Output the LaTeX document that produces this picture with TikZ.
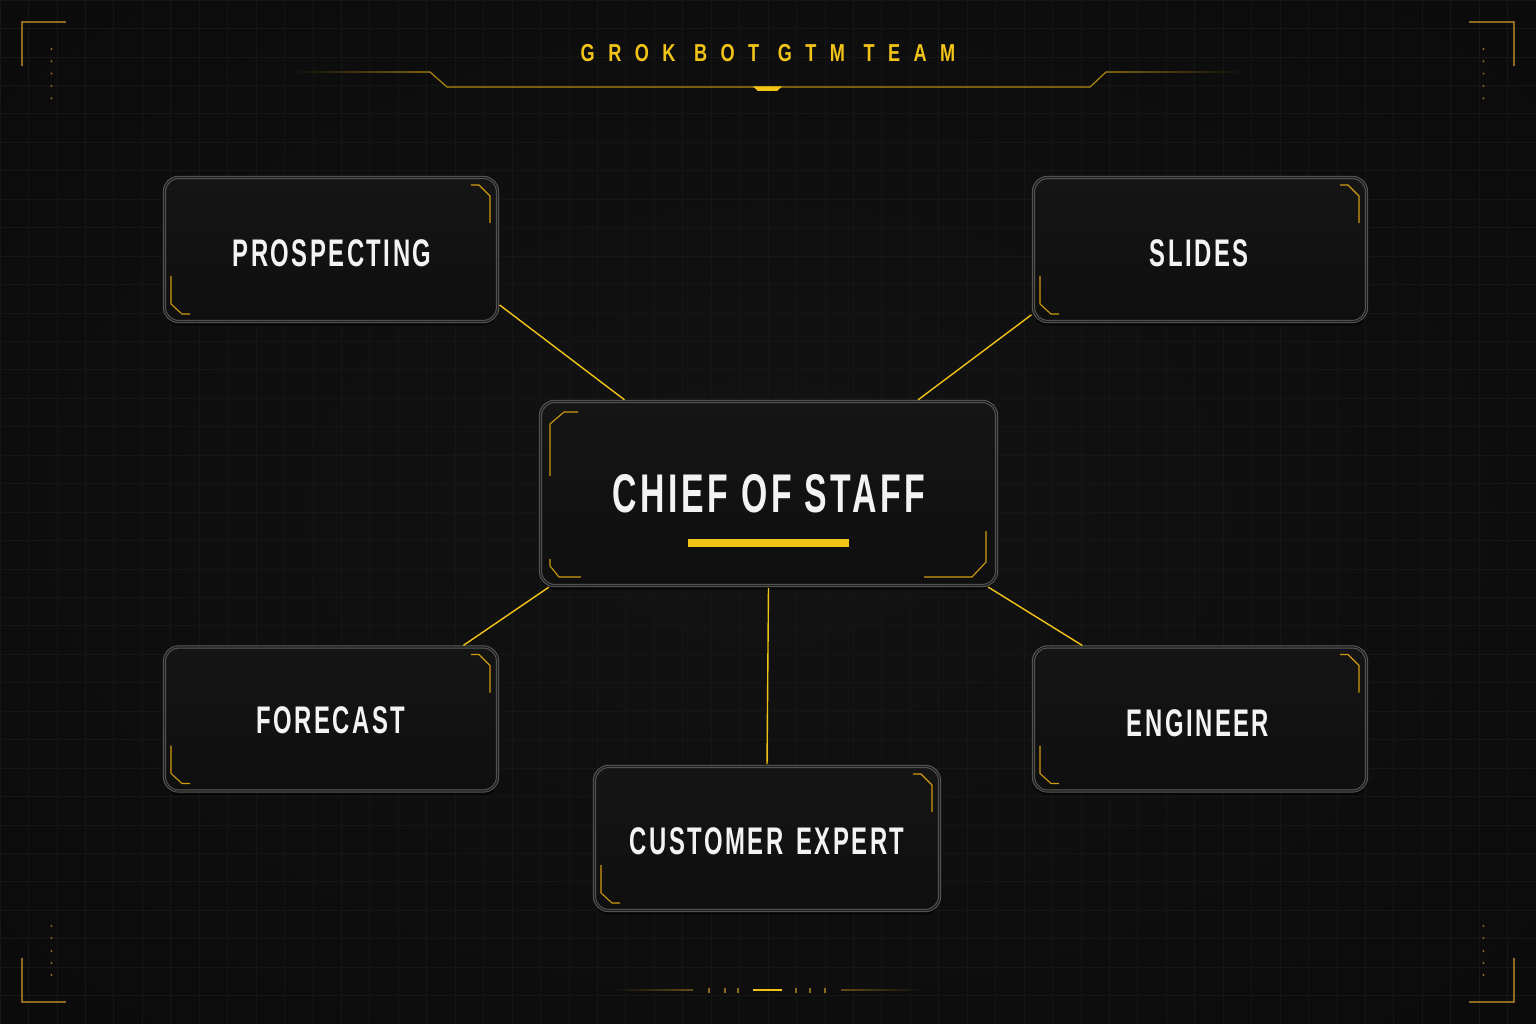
\documentclass[tikz,border=0pt]{standalone}
\usepackage{fontspec}
\setmainfont{Liberation Sans}
\newfontfamily\lblfont[FakeStretch=0.62,LetterSpace=6.5]{Liberation Sans Bold}
\newfontfamily\ttlfont[FakeStretch=0.74,LetterSpace=55]{Liberation Sans Bold}
\usetikzlibrary{calc,shadows}
\definecolor{bgA}{HTML}{131313}
\definecolor{bgB}{HTML}{0C0C0C}
\definecolor{bgC}{HTML}{070707}
\definecolor{gridc}{HTML}{161616}
\definecolor{cardtop}{HTML}{151515}
\definecolor{cardbot}{HTML}{0F0F0F}
\definecolor{cardline}{HTML}{5A5A57}
\definecolor{cardgap}{HTML}{1E1E1E}
\definecolor{gold}{HTML}{F2C417}
\definecolor{linegold}{HTML}{B08A10}
\definecolor{dimgold}{HTML}{8C6B1E}
\definecolor{brkc}{HTML}{D19B0E}
\definecolor{txt}{HTML}{F3F3F3}
\pgfdeclareradialshading{vign}{\pgfpoint{0bp}{0bp}}{color(0bp)=(bgA); color(30bp)=(bgB); color(50bp)=(bgC)}
\tikzset{
  card/.style={draw=cardline, double=cardgap, line width=1pt, double distance=1.2pt,
    rounded corners=14pt, top color=cardtop, bottom color=cardbot,
    drop shadow={shadow xshift=0pt, shadow yshift=-4pt, opacity=0.55, fill=black},
    minimum width=333pt, minimum height=144pt, inner sep=0pt},
  lbl/.style={text=txt, font=\lblfont\fontsize{38.5}{40}\selectfont, anchor=base, inner sep=0pt},
  wire/.style={draw=gold, line width=1.4pt, shorten <=2pt, shorten >=2pt},
  brk/.style={draw=brkc, line width=1.1pt, line join=round},
  framec/.style={draw=dimgold, line width=1.3pt},
}
\newcommand\cardbrk[1]{%
  \draw[brk] ($(#1.north east)+(-27,8)$) -- ($(#1.north east)+(-19,8)$) -- ($(#1.north east)+(-8,19)$) -- ($(#1.north east)+(-8,46)$);
  \draw[brk] ($(#1.south west)+(7,-46)$) -- ($(#1.south west)+(7,-18)$) -- ($(#1.south west)+(18,-8)$) -- ($(#1.south west)+(26,-8)$);}
\begin{document}
\begin{tikzpicture}[x=1pt,y=-1pt]
\useasboundingbox (0,0) rectangle (1536,1024);
\shade[shading=vign] (0,0) rectangle (1536,1024);
% grid
\foreach \i in {0,...,54} \draw[gridc, line width=0.7pt] (\i*28.444,0) -- (\i*28.444,1024);
\foreach \j in {0,...,36} \draw[gridc, line width=0.7pt] (0,\j*28.444) -- (1536,\j*28.444);
% frame corners
\draw[framec] (22,66) -- (22,22) -- (66,22);
\draw[framec] (1469,22) -- (1514,22) -- (1514,66);
\draw[framec] (22,958) -- (22,1002) -- (66,1002);
\draw[framec] (1469,1002) -- (1514,1002) -- (1514,958);
\foreach \y in {49,61.3,73.6,86,98.3} {
  \fill[dimgold] (51.5,\y) circle (1.1pt);
  \fill[dimgold] (1483.5,\y) circle (1.1pt);}
\foreach \y in {926,938,951,963,975} {
  \fill[dimgold] (51.5,\y) circle (1.1pt);
  \fill[dimgold] (1483.5,\y) circle (1.1pt);}
% bottom centre mark
\shade[left color=bgB, right color=dimgold!70!black] (610,989.4) rectangle (693,990.6);
\shade[left color=dimgold!70!black, right color=bgB] (841,989.4) rectangle (925,990.6);
\foreach \x in {709,725,738,796,810,825} \fill[dimgold] (\x-1,987.5) rectangle (\x+1,992.5);
\fill[gold] (753,989) rectangle (782,991);
% title
\node[text=gold, font=\ttlfont\fontsize{24.5}{25}\selectfont, anchor=base, inner sep=0pt] (title) at (768,62) {GROK BOT GTM TEAM};
\shade[left color=bgB, right color=linegold!70!black] (290,71.4) rectangle (430,72.6);
\shade[left color=linegold!70!black, right color=bgB] (1106,71.4) rectangle (1245,72.6);
\draw[linegold, line width=1.2pt, line join=round] (430,72) -- (447,87) -- (1090,87) -- (1106,72);
\fill[gold] (753,86.5) -- (782,86.5) -- (777,91) -- (758,91) -- cycle;
% cards
\node[card] (pros) at (331,249.5) {};
\node[card] (slides) at (1200,249.5) {};
\node[card, minimum width=456pt, minimum height=184pt] (chief) at (768.5,493.5) {};
\node[card] (fore) at (331,719) {};
\node[card] (eng) at (1200,719) {};
\node[card, minimum width=345pt] (cust) at (767,838.5) {};
% texts
\node[lbl] (prost) at (332,266) {PROSPECTING};
\node[lbl] (slidest) at (1199,266) {SLIDES};
\node[lbl, font=\lblfont\fontsize{54.5}{56}\selectfont] (chieft) at (769,512) {CHIEF OF STAFF};
\node[lbl] (foret) at (331,733) {FORECAST};
\node[lbl] (engt) at (1198,736) {ENGINEER};
\node[lbl] (custt) at (767,854) {CUSTOMER\hspace{4pt} EXPERT};
\fill[gold] ($(chief.center)+(-81,45.5)$) rectangle ($(chief.center)+(80,53.5)$);
% card brackets
\cardbrk{pros}
\cardbrk{slides}
\cardbrk{fore}
\cardbrk{eng}
\cardbrk{cust}
\draw[brk] ($(chief.north west)+(38,11)$) -- ($(chief.north west)+(24,11)$) -- ($(chief.north west)+(10,23)$) -- ($(chief.north west)+(10,75)$);
\draw[brk] ($(chief.south west)+(10,-27)$) -- ($(chief.south west)+(10,-20)$) -- ($(chief.south west)+(19,-9)$) -- ($(chief.south west)+(41,-9)$);
\draw[brk] ($(chief.south east)+(-11,-55)$) -- ($(chief.south east)+(-11,-24)$) -- ($(chief.south east)+(-25,-9)$) -- ($(chief.south east)+(-73,-9)$);
% connectors
\draw[wire] (pros.-18) -- (chief.147);
\draw[wire] (slides.-159.7) -- (chief.32);
\draw[wire] (fore.29.5) -- (chief.203);
\draw[wire] (eng.148.6) -- (chief.-23);
\draw[wire] (chief.south) -- (cust.north);
\end{tikzpicture}
\end{document}
